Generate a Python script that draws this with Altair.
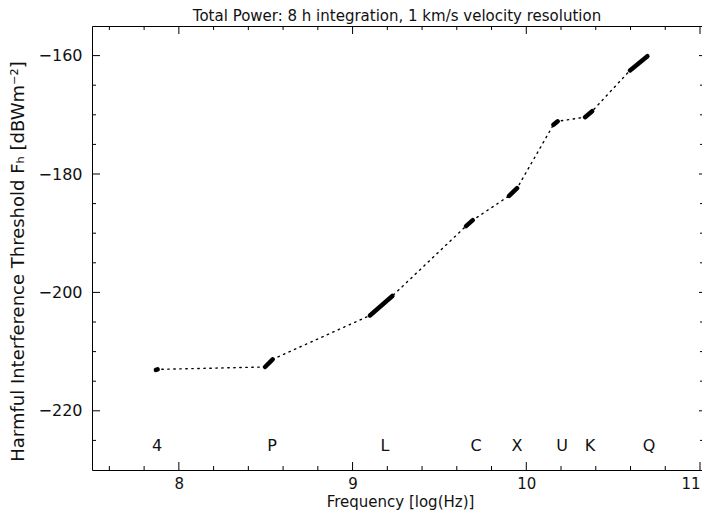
import altair as alt
import pandas as pd

# ---- data ----
bands = ["4", "P", "L", "C", "X", "U", "K", "Q"]
x_start = [7.868, 8.496, 9.100, 9.653, 9.901, 10.156, 10.338, 10.597]
x_end = [7.878, 8.540, 9.229, 9.692, 9.947, 10.181, 10.379, 10.697]
y_start = [-213.1, -212.6, -203.9, -188.8, -183.7, -171.7, -170.4, -162.5]
y_end = [-213.0, -211.3, -200.6, -187.8, -182.4, -171.1, -169.4, -160.1]
label_x = [7.874, 8.537, 9.187, 9.711, 9.947, 10.206, 10.367, 10.707]
label_y = -226.0

x_major = [8, 9, 10, 11]
x_minor = [7.6, 7.8, 8.2, 8.4, 8.6, 8.8, 9.2, 9.4, 9.6, 9.8, 10.2, 10.4, 10.6, 10.8]
y_major = [-220, -200, -180, -160]
y_minor = [-225, -215, -210, -205, -195, -190, -185, -175, -170, -165]

TITLE = "Total Power: 8 h integration, 1 km/s velocity resolution"
X_TITLE = "Frequency [log(Hz)]"
Y_TITLE = "Harmful Interference Threshold F\u2095 [dBWm\u207b\u00b2]"

W, H = 610, 444
FONT = "DejaVu Sans"
INK = "#111111"

seg_df = pd.DataFrame({"band": bands, "x0": x_start, "x1": x_end, "y0": y_start, "y1": y_end})
line_rows = []
for i in range(len(bands)):
    line_rows.append({"order": 2 * i, "x": x_start[i], "y": y_start[i]})
    line_rows.append({"order": 2 * i + 1, "x": x_end[i], "y": y_end[i]})
line_df = pd.DataFrame(line_rows)
lab_df = pd.DataFrame({"band": bands, "x": label_x, "y": [label_y] * len(bands)})

xscale = alt.Scale(domain=[7.5, 11.0115], nice=False, zero=False)
yscale = alt.Scale(domain=[-230, -155], nice=False, zero=False)

line = alt.Chart(line_df).mark_line(
    color="black", strokeWidth=1.4, strokeDash=[1.4, 4.6], strokeCap="round"
).encode(
    x=alt.X("x:Q", scale=xscale, axis=alt.Axis(
        values=x_major, format=".0f", ticks=False, tickSize=0, domain=False, grid=False,
        labelFont=FONT, labelFontSize=15, labelColor=INK, labelPadding=6,
        labelFlush=4, labelFlushOffset=0,
        title=X_TITLE, titleFont=FONT, titleFontSize=15, titleFontWeight="normal",
        titleColor=INK, titleX=308, titleY=31, titleBaseline="middle")),
    y=alt.Y("y:Q", scale=yscale, axis=alt.Axis(
        values=y_major, ticks=False, tickSize=0, domain=False, grid=False,
        labelFont=FONT, labelFontSize=16, labelColor=INK, labelPadding=10,
        title=Y_TITLE, titleFont=FONT, titleFontSize=18, titleFontWeight="normal",
        titleColor=INK, titleAngle=-90, titleX=-74, titleY=235,
        titleAlign="center", titleBaseline="middle")),
    order="order:Q",
)

segs = alt.Chart(seg_df).mark_rule(color="black", strokeWidth=4.5, strokeCap="round").encode(
    x=alt.X("x0:Q", scale=xscale), x2="x1:Q",
    y=alt.Y("y0:Q", scale=yscale), y2="y1:Q",
)

labels = alt.Chart(lab_df).mark_text(font=FONT, fontSize=16, color=INK, baseline="middle").encode(
    x=alt.X("x:Q", scale=xscale), y=alt.Y("y:Q", scale=yscale), text="band:N",
)

def xticks(vals, length):
    df = pd.DataFrame({"v": vals})
    bottom = alt.Chart(df).mark_rule(color="black", strokeWidth=1).encode(
        x=alt.X("v:Q", scale=xscale), y=alt.value(H), y2=alt.value(H - length))
    top = alt.Chart(df).mark_rule(color="black", strokeWidth=1).encode(
        x=alt.X("v:Q", scale=xscale), y=alt.value(0), y2=alt.value(length))
    return [bottom, top]

def yticks(vals, length, right_length):
    df = pd.DataFrame({"v": vals})
    left = alt.Chart(df).mark_rule(color="black", strokeWidth=1).encode(
        y=alt.Y("v:Q", scale=yscale), x=alt.value(0), x2=alt.value(length))
    right = alt.Chart(df).mark_rule(color="black", strokeWidth=1).encode(
        y=alt.Y("v:Q", scale=yscale), x=alt.value(W), x2=alt.value(W - right_length))
    return [left, right]

tick_layers = (xticks(x_major, 8) + xticks(x_minor, 4)
               + yticks(y_major, 8, 3) + yticks(y_minor, 4, 2))

chart = alt.layer(line, segs, labels, *tick_layers).properties(
    width=W, height=H,
    title=alt.Title(TITLE, font=FONT, fontSize=15, fontWeight="normal", color=INK, offset=2),
    autosize=alt.AutoSizeParams(type="none"),
    padding={"left": 84, "top": 18, "right": 0, "bottom": 40},
).configure(background="white").configure_view(stroke="black", strokeWidth=1)

chart.save("out.html", embed_options={"renderer": "svg", "actions": False})
